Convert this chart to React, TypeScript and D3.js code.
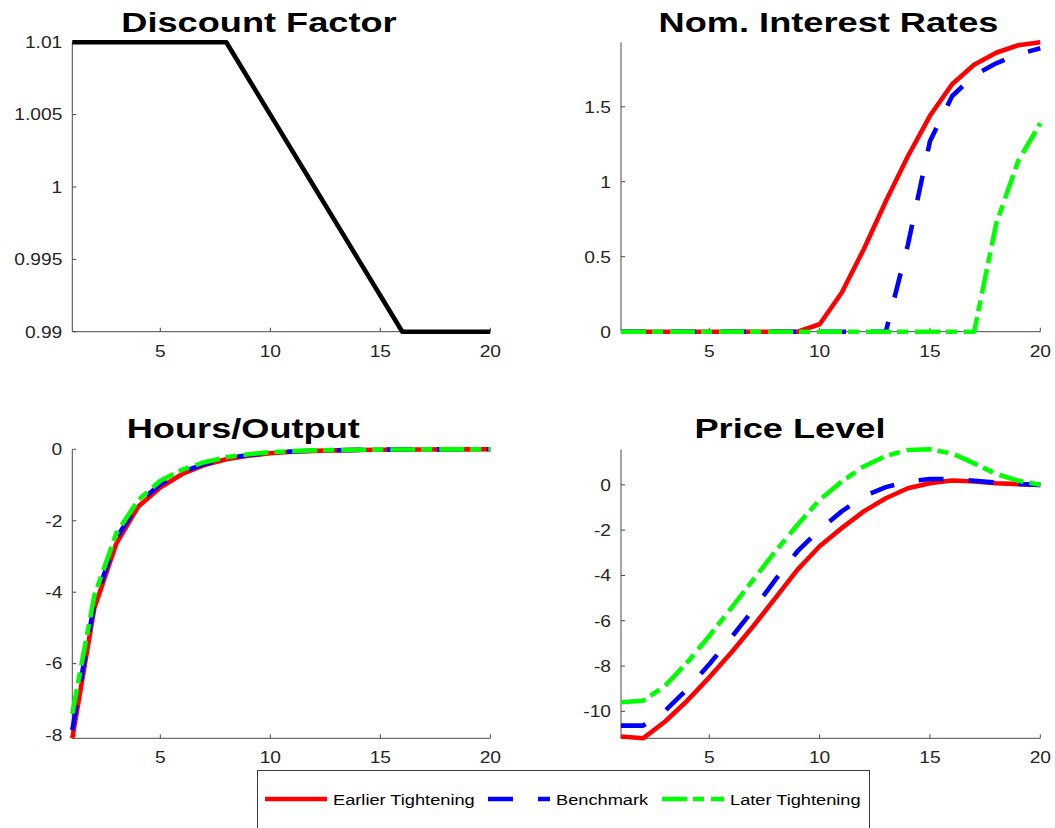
import React from 'react';
import * as d3 from 'd3';

// ---- data -------------------------------------------------------------
const periods = [1, 2, 3, 4, 5, 6, 7, 8, 9, 10, 11, 12, 13, 14, 15, 16, 17, 18, 19, 20];
const xTicks = [5, 10, 15, 20];

const discountFactor = [
  1.01, 1.01, 1.01, 1.01, 1.01, 1.01, 1.01, 1.01,
  1.0075, 1.005, 1.0025, 1.0, 0.9975, 0.995, 0.9925, 0.99,
  0.99, 0.99, 0.99, 0.99,
];
const discountTicks = [0.99, 0.995, 1, 1.005, 1.01];

const rateEarlier = [0, 0, 0, 0, 0, 0, 0, 0, 0, 0.05, 0.26, 0.55, 0.87, 1.17, 1.44, 1.65, 1.78, 1.86, 1.91, 1.93];
const rateBenchmark = [0, 0, 0, 0, 0, 0, 0, 0, 0, 0, 0, 0, 0, 0.58, 1.27, 1.57, 1.71, 1.79, 1.85, 1.89];
const rateLater = [0, 0, 0, 0, 0, 0, 0, 0, 0, 0, 0, 0, 0, 0, 0, 0, 0, 0.72, 1.14, 1.39];
const rateTicks = [0, 0.5, 1, 1.5];

const hoursEarlier = [-8.09, -4.45, -2.64, -1.6, -1.07, -0.69, -0.44, -0.28, -0.18, -0.11, -0.07, -0.045, -0.03, -0.02, -0.012, -0.008, -0.005, -0.003, -0.001, 0];
const hoursBenchmark = [-7.86, -4.3, -2.5, -1.5, -0.98, -0.64, -0.41, -0.26, -0.16, -0.1, -0.06, -0.04, -0.025, -0.015, -0.01, -0.006, -0.004, -0.002, -0.001, 0];
const hoursLater = [-7.4, -4.1, -2.35, -1.42, -0.88, -0.57, -0.36, -0.22, -0.14, -0.08, -0.05, -0.03, -0.02, -0.012, -0.008, -0.005, -0.003, -0.002, -0.001, 0];
const hoursTicks = [-8, -6, -4, -2, 0];

const priceEarlier = [-11.11, -11.19, -10.45, -9.53, -8.5, -7.4, -6.23, -4.99, -3.74, -2.71, -1.91, -1.17, -0.59, -0.15, 0.07, 0.19, 0.15, 0.07, 0.03, 0];
const priceBenchmark = [-10.63, -10.63, -9.97, -9.02, -7.92, -6.74, -5.5, -4.18, -2.93, -1.98, -1.17, -0.51, -0.1, 0.15, 0.26, 0.26, 0.18, 0.1, 0.04, 0];
const priceLater = [-9.6, -9.53, -8.87, -7.84, -6.67, -5.43, -4.18, -2.93, -1.76, -0.66, 0.15, 0.81, 1.28, 1.54, 1.57, 1.39, 0.95, 0.48, 0.18, 0];
const priceTicks = [-10, -8, -6, -4, -2, 0];

const scenarioNames = ['Earlier Tightening', 'Benchmark', 'Later Tightening'];

// ---- styles -----------------------------------------------------------
const FONT = '"Liberation Sans", Arial, Helvetica, sans-serif';
const TICK_SX = 1.2;
const TITLE_SX = 1.27;
const LINE_W = 4.6;
const AXIS_COLOR = '#4a4a4a';
const TEXT_COLOR = '#262626';

const scenarioStyles = [
  { color: '#ff0000', dash: undefined as string | undefined },
  { color: '#0000ff', dash: '25,25' },
  { color: '#00ff00', dash: '25,6,11,7' },
];

type Series = { values: number[]; color: string; dash?: string };
type Panel = {
  title: string;
  series: Series[];
  yTicks: number[];
  box: { left: number; right: number; top: number; bottom: number };
  titleX: number;
  titleY: number;
};

const scen = (vals: number[][]): Series[] =>
  vals.map((v, i) => ({ values: v, color: scenarioStyles[i].color, dash: scenarioStyles[i].dash }));

const LEFT = { left: 72.3, right: 490.3 };
const RIGHT = { left: 621, right: 1040.3 };
const TOP = { top: 42.3, bottom: 331.7 };
const BOTTOM = { top: 449.3, bottom: 738.3 };

const panels: Panel[] = [
  {
    title: 'Discount Factor',
    series: [{ values: discountFactor, color: '#000000' }],
    yTicks: discountTicks,
    box: { ...LEFT, ...TOP },
    titleX: 259,
    titleY: 32,
  },
  {
    title: 'Nom. Interest Rates',
    series: scen([rateEarlier, rateBenchmark, rateLater]),
    yTicks: rateTicks,
    box: { ...RIGHT, ...TOP },
    titleX: 828.5,
    titleY: 32,
  },
  {
    title: 'Hours/Output',
    series: scen([hoursEarlier, hoursBenchmark, hoursLater]),
    yTicks: hoursTicks,
    box: { ...LEFT, ...BOTTOM },
    titleX: 243.3,
    titleY: 438.3,
  },
  {
    title: 'Price Level',
    series: scen([priceEarlier, priceBenchmark, priceLater]),
    yTicks: priceTicks,
    box: { ...RIGHT, ...BOTTOM },
    titleX: 790,
    titleY: 438.3,
  },
];

function PanelView({ p }: { p: Panel }) {
  const all = p.series.flatMap((s) => s.values);
  const ext = d3.extent(all) as [number, number];
  const x = d3.scaleLinear().domain([periods[0], periods[periods.length - 1]]).range([p.box.left, p.box.right]);
  const y = d3.scaleLinear().domain(ext).range([p.box.bottom, p.box.top]);
  const line = d3
    .line<number>()
    .x((_, i) => x(periods[i]))
    .y((d) => y(d));
  const tick = 4;
  return (
    <g>
      {/* axes */}
      <line x1={p.box.left} x2={p.box.left} y1={p.box.top} y2={p.box.bottom} stroke={AXIS_COLOR} strokeWidth={1} />
      <line x1={p.box.left} x2={p.box.right} y1={p.box.bottom} y2={p.box.bottom} stroke={AXIS_COLOR} strokeWidth={1} />
      {xTicks.map((t) => (
        <g key={'x' + t}>
          <line x1={x(t)} x2={x(t)} y1={p.box.bottom} y2={p.box.bottom - tick} stroke={AXIS_COLOR} strokeWidth={1} />
          <text
            transform={`translate(${x(t)},${p.box.bottom + 25}) scale(${TICK_SX},1)`}
            textAnchor="middle"
            fontFamily={FONT}
            fontSize={16}
            fill={TEXT_COLOR}
          >
            {String(t)}
          </text>
        </g>
      ))}
      {p.yTicks.map((t) => (
        <g key={'y' + t}>
          <line x1={p.box.left} x2={p.box.left + tick} y1={y(t)} y2={y(t)} stroke={AXIS_COLOR} strokeWidth={1} />
          <text
            transform={`translate(${p.box.left - 10},${y(t) + 5.8}) scale(${TICK_SX},1)`}
            textAnchor="end"
            fontFamily={FONT}
            fontSize={16}
            fill={TEXT_COLOR}
          >
            {String(t)}
          </text>
        </g>
      ))}
      {/* series */}
      {p.series.map((s, i) => (
        <path
          key={i}
          d={line(s.values) || ''}
          fill="none"
          stroke={s.color}
          strokeWidth={LINE_W}
          strokeDasharray={s.dash}
          strokeLinejoin="round"
        />
      ))}
      <text
        transform={`translate(${p.titleX},${p.titleY}) scale(${TITLE_SX},1)`}
        textAnchor="middle"
        fontFamily={FONT}
        fontWeight="bold"
        fontSize={28.5}
        fill="#000"
      >
        {p.title}
      </text>
    </g>
  );
}

const legendItemX = [265, 488, 662];

export default function App() {
  return (
    <svg
      width={1055}
      height={828}
      style={{ position: 'absolute', left: 0, top: 0, background: '#fff' }}
    >
      <rect x={0} y={0} width={1055} height={828} fill="#fff" />
      {panels.map((p, i) => (
        <PanelView key={i} p={p} />
      ))}
      {/* legend */}
      <rect x={257.5} y={770.5} width={612} height={80} fill="#fff" stroke="#3a3a3a" strokeWidth={1} />
      {scenarioNames.map((name, i) => (
        <g key={name}>
          <line
            x1={legendItemX[i]}
            x2={legendItemX[i] + 62}
            y1={799}
            y2={799}
            stroke={scenarioStyles[i].color}
            strokeWidth={LINE_W}
            strokeDasharray={scenarioStyles[i].dash}
          />
          <text
            transform={`translate(${legendItemX[i] + 68},${804.5}) scale(${TICK_SX},1)`}
            fontFamily={FONT}
            fontSize={15.2}
            fill="#000"
          >
            {name}
          </text>
        </g>
      ))}
    </svg>
  );
}
